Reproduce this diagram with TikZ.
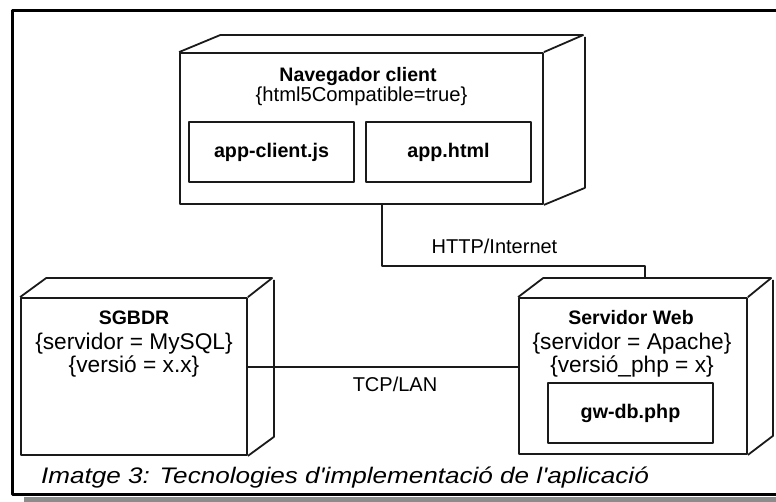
\documentclass[tikz,border=0pt]{standalone}
\usepackage{fontspec}
\setmainfont{Liberation Sans}
\definecolor{shadowgray}{HTML}{8C8C8C}
\definecolor{ink}{HTML}{1A1A1A}
\begin{document}
\begin{tikzpicture}[x=1pt,y=-1pt,
  line join=round,
  face/.style={draw=ink, line width=1.8pt, inner sep=0pt, fill=white},
  art/.style={draw=ink, line width=1.8pt, minimum width=165pt, minimum height=60pt, inner sep=0pt, font=\fontsize{19.7}{22}\bfseries\selectfont},
  ttl/.style={inner sep=0pt, anchor=base, font=\fontsize{19.5}{22}\bfseries\selectfont},
  prop/.style={inner sep=0pt, anchor=base, font=\fontsize{22.7}{25}\selectfont},
  lbl/.style={inner sep=0pt, anchor=base, font=\fontsize{20}{22}\selectfont},
  conn/.style={draw=ink, line width=1.8pt},
  edge3d/.style={draw=ink, line width=1.8pt}]

\useasboundingbox (0,0) rectangle (776,502);
\fill[shadowgray] (24,497) rectangle (790,502);
\draw[line width=3pt] (12,10.5) rectangle (790,494.7);

% Navegador client
\node[face, minimum width=363pt, minimum height=151pt] (nav) at (361.5,128.5) {};
\draw[edge3d] (nav.north west) -- ++(41,-17) -- ++(363,0) -- (nav.north east)
  (nav.south east) -- ++(41,-17) -- ++(0,-151);
\node[ttl] (navt) at (358,81.7) {Navegador client};
\node[prop, font=\fontsize{20.2}{22}\selectfont] (navp) at (361.5,101.5) {\{html5Compatible=true\}};
\node[art] (ac) at (271.5,152) {app-client.js};
\node[art] (ah) at (448.5,152) {app.html};

% SGBDR
\node[face, minimum width=226pt, minimum height=157pt] (db) at (134,376.5) {};
\draw[edge3d] (db.north west) -- ++(26,-19) -- ++(226,0) -- (db.north east)
  (db.south east) -- ++(26,-19) -- ++(0,-157);
\node[ttl] (dbt) at (134,325) {SGBDR};
\node[prop] (dbp1) at (134,349.5) {\{servidor = MySQL\}};
\node[prop] (dbp2) at (134,373) {\{versió = x.x\}};

% Servidor Web
\node[face, minimum width=228pt, minimum height=156pt] (web) at (633,376) {};
\draw[edge3d] (web.north west) -- ++(25,-19) -- ++(228,0) -- (web.north east)
  (web.south east) -- ++(25,-19) -- ++(0,-156);
\node[ttl] (webt) at (631,325) {Servidor Web};
\node[prop] (webp1) at (632,349.5) {\{servidor = Apache\}};
\node[prop] (webp2) at (632,373) {\{versió\_php = x\}};
\node[art] (gw) at (630.5,413) {gw-db.php};

% connectors
\path (nav.south west) ++(203,0) coordinate (navout);
\path (web.north west) ++(127,-19) coordinate (webin);
\draw[conn] (navout) -- ++(0,61) -| (webin);
\node[lbl] (http) at (494.5,254) {HTTP/Internet};

\coordinate (tcpy) at (0,367);
\draw[conn] (db.east |- tcpy) -- (web.west |- tcpy);
\node[lbl] (tcp) at (395,391) {TCP/LAN};

% caption
\node[anchor=base west, inner sep=0pt, font=\fontsize{22.5}{25}\itshape\selectfont] (cap) at (41,483.3)
  {\scalebox{1.16}[1]{Imatge 3: Tecnologies d\textquotesingle implementació de l\textquotesingle aplicació}};
\end{tikzpicture}
\end{document}
